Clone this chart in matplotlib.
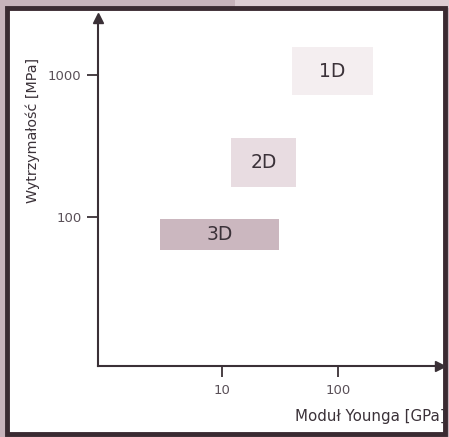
import matplotlib.pyplot as plt
from matplotlib.patches import Rectangle

# regions: Young's modulus [GPa] vs strength [MPa]
labels = ["1D", "2D", "3D"]
x_lo = [40, 12, 2.9]
x_hi = [200, 43, 31]
y_lo = [720, 163, 59]
y_hi = [1570, 360, 97]
box_colors = ["#f4eef0", "#e8dce1", "#cbb7bf"]

x_ticks = [10, 100]
y_ticks = [100, 1000]

W, H = 449, 437
fig = plt.figure(figsize=(W / 100, H / 100), dpi=100)
fig.patch.set_facecolor("#c7b3bb")

# light patch at the top right of the scan
fig.add_artist(Rectangle((235 / W, 1 - 8 / H), 1, 8 / H, transform=fig.transFigure,
                         facecolor="#ddcdd3", edgecolor="none", zorder=-10))
# white panel with dark frame
fig.add_artist(Rectangle((6.5 / W, 1 - 434 / H), 438 / W, 426 / H, transform=fig.transFigure,
                         facecolor="white", edgecolor="#3a2a31", linewidth=3.5, zorder=-9))

ax = fig.add_axes([98 / W, 1 - 366 / H, (440 - 98) / W, (366 - 18) / H])
ax.set_xscale("log")
ax.set_yscale("log")
ax.set_xlim(0.853, 757)
ax.set_ylim(8.93, 2518)
ax.patch.set_alpha(0)

for lab, x0, x1, y0, y1, c in zip(labels, x_lo, x_hi, y_lo, y_hi, box_colors):
    ax.fill_between([x0, x1], y0, y1, color=c, linewidth=0)
    ax.text((x0 * x1) ** 0.5, (y0 * y1) ** 0.5, lab, ha="center", va="center",
            fontsize=13.5, color="#3b3239", family="DejaVu Sans")

axis_c = "#3a3036"
for s in ["top", "right"]:
    ax.spines[s].set_visible(False)
for s in ["left", "bottom"]:
    ax.spines[s].set_color(axis_c)
    ax.spines[s].set_linewidth(1.5)

# arrow heads
ax.plot(1, 0, ">", color=axis_c, markersize=7, transform=ax.transAxes, clip_on=False)
ax.plot(0, 1, "^", color=axis_c, markersize=7, transform=ax.transAxes, clip_on=False)

ax.minorticks_off()
ax.set_xticks(x_ticks)
ax.set_xticklabels([str(v) for v in x_ticks])
ax.set_yticks(y_ticks)
ax.set_yticklabels([str(v) for v in y_ticks])
ax.tick_params(direction="out", length=8, width=1.3, color=axis_c,
               labelcolor="#5a5058", labelsize=9.5, pad=5)
ax.tick_params(axis="y", pad=4)

fig.text(446 / W, 1 - 417 / H, "Moduł Younga [GPa]", ha="right", va="center",
         fontsize=10.8, color="#3b3239")
fig.text(33 / W, 1 - 130 / H, "Wytrzymałość [MPa]", ha="center", va="center",
         rotation=90, fontsize=10.3, color="#3b3239")

fig.savefig("out.png", dpi=100)
